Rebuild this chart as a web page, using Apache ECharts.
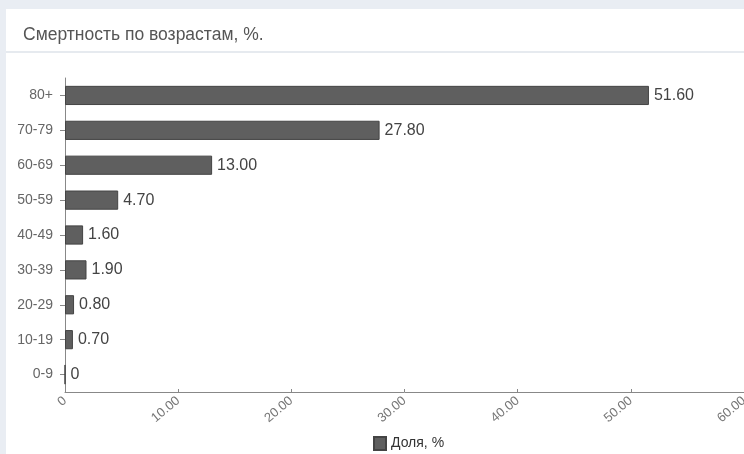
<!DOCTYPE html>
<html><head><meta charset="utf-8">
<script src="https://cdn.jsdelivr.net/npm/echarts@6/dist/echarts.min.js"></script>
<style>html,body{margin:0;padding:0;background:#e9edf3;}#c{width:744px;height:454px;}</style>
</head><body><div id="c"></div>
<script>
const categories = ['0-9','10-19','20-29','30-39','40-49','50-59','60-69','70-79','80+'];
const values = [0, 0.7, 0.8, 1.9, 1.6, 4.7, 13.0, 27.8, 51.6];
const seriesName = 'Доля, %';
const titleText = 'Смертность по возрастам, %.';
const FONT = '"Liberation Sans", Arial, sans-serif';
function fmt(v){ return v === 0 ? '0' : v.toFixed(2); }
const chart = echarts.init(document.getElementById('c'));
chart.setOption({
  animation: false,
  textStyle: {fontFamily: FONT},
  graphic: [
    {type:'rect', z:-10, silent:true, shape:{x:0,y:0,width:744,height:454}, style:{fill:'#e9edf3'}},
    {type:'rect', z:-9, silent:true, shape:{x:6,y:9,width:738,height:445}, style:{fill:'#ffffff'}},
    {type:'rect', z:-8, silent:true, shape:{x:6,y:51,width:738,height:2}, style:{fill:'#e6eaef'}}
  ],
  title: {text: titleText, left: 18, top: 21, textStyle:{fontSize:17.5, fontWeight:'normal', color:'#555', fontFamily: FONT}},
  legend: {data:[seriesName], top: 431, left: 368, itemWidth: 12, itemHeight: 13, icon:'rect',
    textStyle:{fontSize:14, color:'#333', fontFamily: FONT}},
  grid: {left: 65, right: 0, top: 78, bottom: 62, containLabel: false, outerBoundsMode: 'none'},
  xAxis: {type:'value', min:0, max:60, interval:10,
    axisLine:{show:true, lineStyle:{color:'#888'}},
    axisTick:{show:true, inside:true, length:3, lineStyle:{color:'#888'}},
    splitLine:{show:false},
    axisLabel:{rotate:40, color:'#777', fontSize:13, margin:7, formatter: v => fmt(v), fontFamily: FONT, hideOverlap:false}},
  yAxis: {type:'category', data: categories,
    axisLine:{show:true, lineStyle:{color:'#888'}},
    axisTick:{show:true, alignWithLabel:true, length:5, lineStyle:{color:'#888'}},
    axisLabel:{color:'#666', fontSize:14, margin:12, fontFamily: FONT}},
  series: [{name: seriesName, type:'bar', data: values, barCategoryGap:'45%',
    itemStyle:{color:'#5f5f5f', borderColor:'#444', borderWidth:1},
    label:{show:true, position:'right', distance:5, fontSize:16, color:'#444', fontFamily: FONT,
      formatter: p => fmt(p.value)}}]
});
</script></body></html>
